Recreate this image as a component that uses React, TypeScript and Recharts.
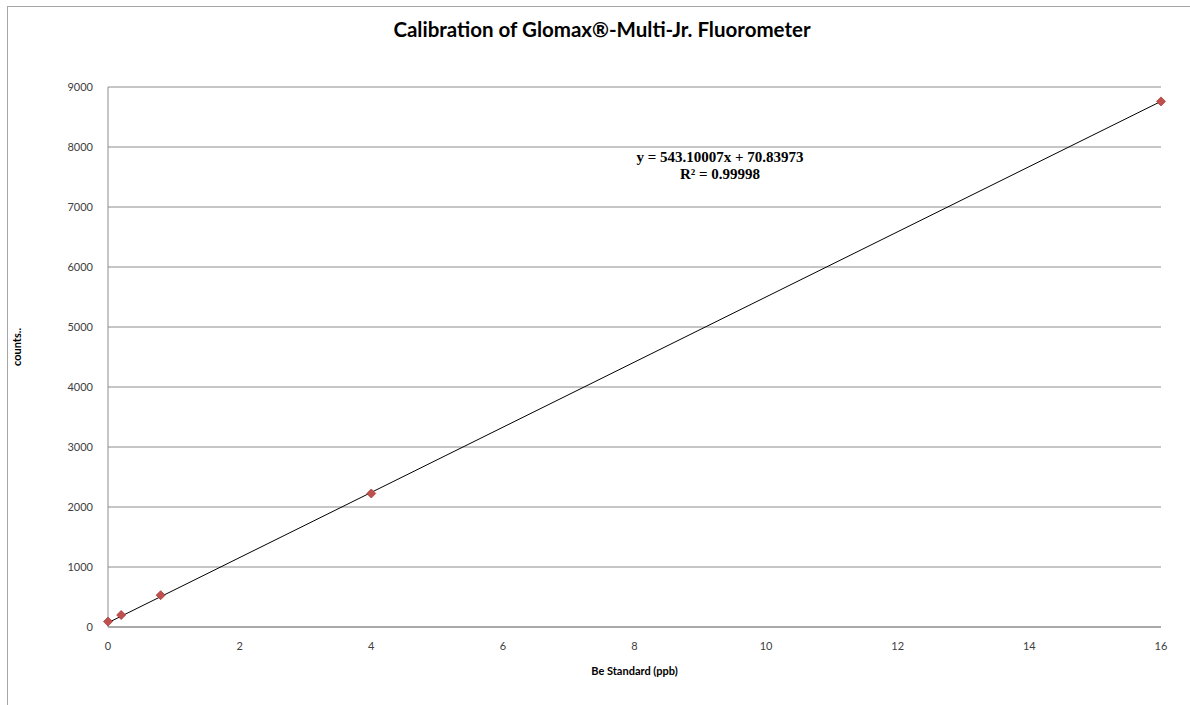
import {
  ScatterChart,
  Scatter,
  XAxis,
  YAxis,
  CartesianGrid,
  ReferenceLine,
  ReferenceDot,
  Label,
} from "recharts";

// Be standard concentrations (ppb) and measured counts
const concentration = [0, 0.2, 0.8, 4, 16];
const counts = [90, 200, 530, 2225, 8760];

const xTicks = [0, 2, 4, 6, 8, 10, 12, 14, 16];
const yTicks = [0, 1000, 2000, 3000, 4000, 5000, 6000, 7000, 8000, 9000];

// linear trendline as printed on the chart
const slope = 543.10007;
const intercept = 70.83973;
const equationText = ["y = 543.10007x + 70.83973", "R² = 0.99998"];

const data = concentration.map((x, i) => ({ x, y: counts[i] }));

const GRID = "#8c8c8c";
const TICK = "#404040";
const FONT = "Lato, 'Open Sans', sans-serif";

function Diamond(props: any) {
  const { cx, cy } = props;
  const r = 4.5;
  return (
    <path
      d={`M${cx},${cy - r} L${cx + r},${cy} L${cx},${cy + r} L${cx - r},${cy} Z`}
      fill="#c0504d"
      stroke="#a33e3b"
      strokeWidth={0.8}
    />
  );
}

function EquationLabel(props: any) {
  const { viewBox } = props;
  const cx = viewBox.x + (viewBox.width || 0) / 2;
  const cy = viewBox.y + (viewBox.height || 0) / 2;
  return (
    <text
      x={cx}
      y={cy}
      textAnchor="middle"
      fontFamily="'Liberation Serif', 'Times New Roman', serif"
      fontWeight="bold"
      fontSize={15}
      fill="#000"
    >
      <tspan x={cx} dy={0}>{equationText[0]}</tspan>
      <tspan x={cx} dy={17}>{equationText[1]}</tspan>
    </text>
  );
}

function YLabel(props: any) {
  const { viewBox } = props;
  const x = 21;
  const y = viewBox.y + viewBox.height / 2 - 10;
  return (
    <text
      x={x}
      y={y}
      transform={`rotate(-90 ${x} ${y})`}
      textAnchor="middle"
      fontFamily={FONT}
      fontWeight="bold"
      fontSize={11}
      fill="#000"
    >
      counts..
    </text>
  );
}

export default function App() {
  return (
    <div
      style={{
        position: "absolute",
        left: 0,
        top: 0,
        width: 1190,
        height: 705,
        overflow: "hidden",
        background: "#fff",
        fontFamily: FONT,
      }}
    >
      <div
        style={{
          position: "absolute",
          left: 7,
          top: 6,
          width: 1220,
          height: 740,
          border: "1px solid #a6a6a6",
        }}
      />
      <div
        style={{
          position: "absolute",
          left: 0,
          width: 1204,
          top: 17,
          textAlign: "center",
          fontWeight: "bold",
          fontSize: 20.5,
          color: "#000",
          whiteSpace: "nowrap",
        }}
      >
        Calibration of Glomax®-Multi-Jr. Fluorometer
      </div>
      <div style={{ position: "absolute", left: 0, top: 0 }}>
        <ScatterChart
          width={1190}
          height={705}
          margin={{ top: 87, right: 29, left: 48, bottom: 48 }}
        >
          <CartesianGrid horizontal vertical={false} stroke={GRID} />
          <XAxis
            type="number"
            dataKey="x"
            domain={[0, 16]}
            ticks={xTicks}
            height={30}
            tickLine={false}
            tickMargin={9}
            axisLine={{ stroke: GRID }}
            tick={{ fontSize: 11, fill: TICK, fontFamily: FONT }}
          >
            <Label
              value="Be Standard (ppb)"
              position="insideBottom"
              offset={-18}
              style={{ fontSize: 11, fontWeight: "bold", fill: "#000", fontFamily: FONT }}
            />
          </XAxis>
          <YAxis
            type="number"
            dataKey="y"
            domain={[0, 9000]}
            ticks={yTicks}
            width={60}
            tickLine={false}
            tickMargin={9}
            axisLine={{ stroke: GRID }}
            tick={{ fontSize: 11, fill: TICK, fontFamily: FONT }}
          >
            <Label content={<YLabel />} />
          </YAxis>
          <ReferenceLine
            segment={[
              { x: 0, y: intercept },
              { x: 16, y: slope * 16 + intercept },
            ]}
            stroke="#000"
            strokeWidth={1}
            ifOverflow="visible"
          />
          <ReferenceDot
            x={9.3}
            y={7750}
            r={0}
            fill="none"
            stroke="none"
            ifOverflow="visible"
            label={<EquationLabel />}
          />
          <Scatter
            data={data}
            shape={<Diamond />}
            isAnimationActive={false}
          />
        </ScatterChart>
      </div>
    </div>
  );
}
